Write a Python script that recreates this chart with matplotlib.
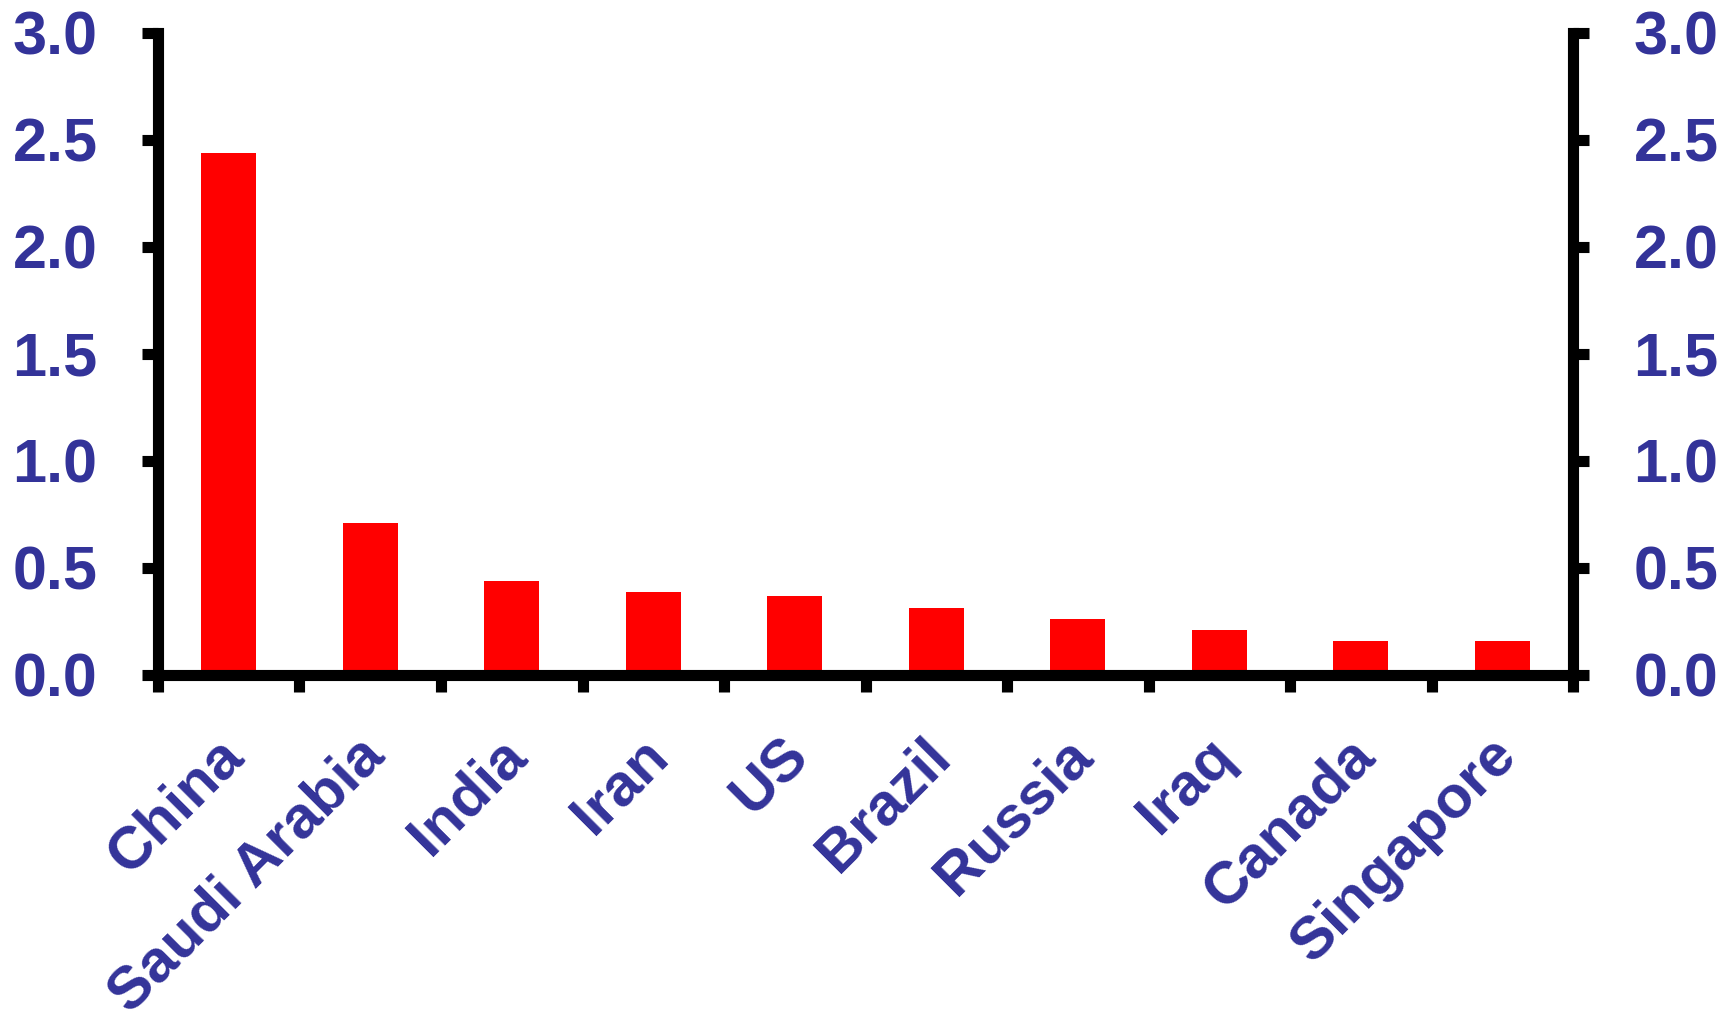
import matplotlib.pyplot as plt
from matplotlib.transforms import ScaledTranslation

countries = ['China', 'Saudi Arabia', 'India', 'Iran', 'US',
             'Brazil', 'Russia', 'Iraq', 'Canada', 'Singapore']
values = [2.44, 0.71, 0.44, 0.39, 0.37, 0.315, 0.262, 0.21, 0.159, 0.159]
y_ticks = [0.0, 0.5, 1.0, 1.5, 2.0, 2.5, 3.0]

TEXT = '#333399'


def main():
    plt.rcParams['font.family'] = ['Liberation Sans', 'DejaVu Sans']
    plt.rcParams['font.weight'] = 'bold'

    fig = plt.figure(figsize=(17.34, 10.31), dpi=100)
    ax = fig.add_axes([0.0911, 0.3453, 0.8161, 0.6227])

    x = list(range(len(countries)))
    ax.bar(x, values, width=0.39, color='#ff0000', zorder=2)

    ax.set_xlim(-0.5, len(countries) - 0.5)
    ax.set_ylim(0, 3.0)

    # spines: left, right and bottom in heavy black, no top
    for side in ['left', 'right', 'bottom']:
        ax.spines[side].set_linewidth(8)
        ax.spines[side].set_color('black')
    ax.spines['top'].set_visible(False)

    # y ticks on both sides
    ax.set_yticks(y_ticks)
    ax.set_yticklabels([f'{t:.1f}' for t in y_ticks])
    ax.tick_params(axis='y', left=True, right=True, labelleft=True, labelright=True,
                   direction='out', length=11.5, width=8, pad=32,
                   labelsize=44, labelcolor=TEXT)

    # x ticks sit on category boundaries, labels in between
    ax.set_xticks([i - 0.5 for i in range(len(countries) + 1)])
    ax.set_xticklabels([])
    ax.tick_params(axis='x', which='major', direction='out', length=12, width=8)
    ax.set_xticks(x, minor=True)
    ax.set_xticklabels(countries, minor=True, rotation=45, ha='right',
                       rotation_mode='anchor', fontsize=43, color=TEXT)
    ax.tick_params(axis='x', which='minor', length=0, pad=38)

    # nudge the rotated labels a little to the left
    shift = ScaledTranslation(-14 / 100, 0, fig.dpi_scale_trans)
    for lbl in ax.get_xticklabels(minor=True):
        lbl.set_transform(lbl.get_transform() + shift)

    fig.savefig('out.png', dpi=100)


if __name__ == '__main__':
    main()
